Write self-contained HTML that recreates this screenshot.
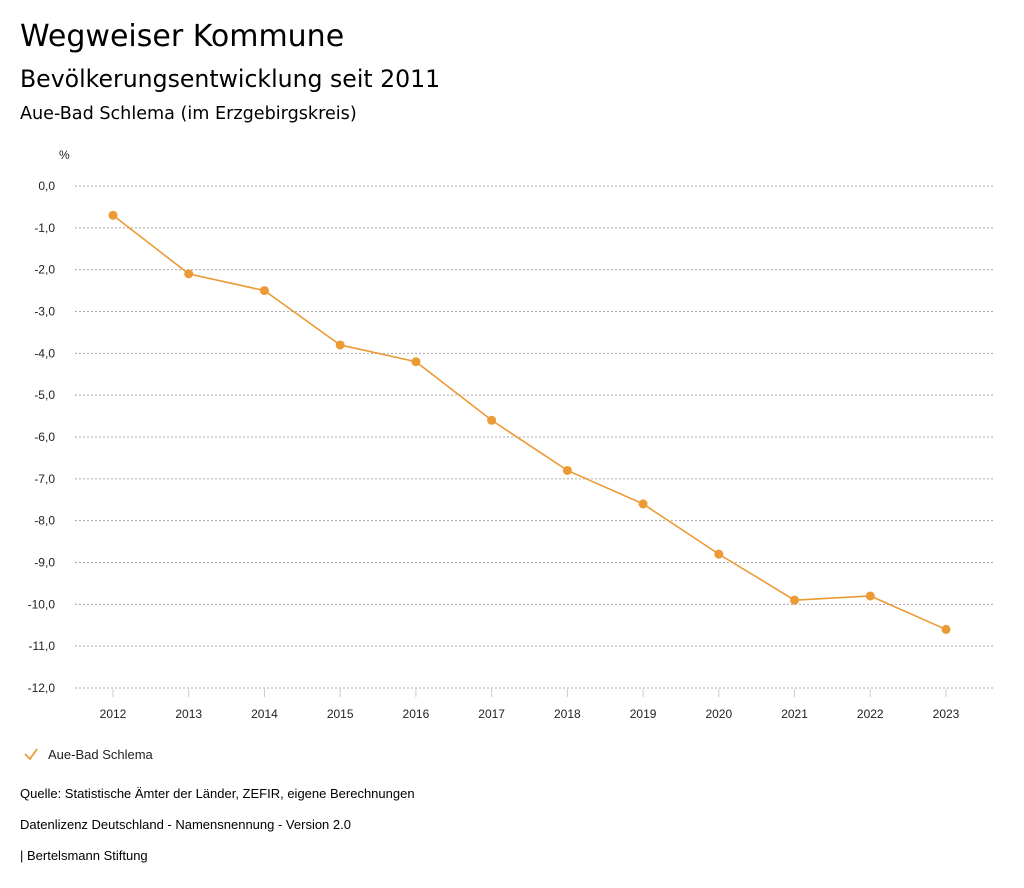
<!DOCTYPE html>
<html><head><meta charset="utf-8"><style>
body{margin:0;width:1024px;height:888px;background:#fff;font-family:"Liberation Sans",sans-serif;color:#000;position:relative;overflow:hidden}
.t{position:absolute;left:20px;white-space:nowrap}
.h{font-family:"DejaVu Sans",sans-serif}
</style></head><body>
<div class="t h" style="top:19px;font-size:30px">Wegweiser Kommune</div>
<div class="t h" style="top:65px;font-size:23.6px">Bevölkerungsentwicklung seit 2011</div>
<div class="t h" style="top:104px;font-size:17.6px">Aue-Bad Schlema (im Erzgebirgskreis)</div>
<svg id="c" width="1024" height="888" style="position:absolute;left:0;top:0"></svg>
<div class="t" style="top:786px;font-size:13px">Quelle: Statistische Ämter der Länder, ZEFIR, eigene Berechnungen</div>
<div class="t" style="top:817px;font-size:13px">Datenlizenz Deutschland - Namensnennung - Version 2.0</div>
<div class="t" style="top:848px;font-size:13px">| Bertelsmann Stiftung</div>
<script>
const years=[2012,2013,2014,2015,2016,2017,2018,2019,2020,2021,2022,2023];
const values=[-0.7,-2.1,-2.5,-3.8,-4.2,-5.6,-6.8,-7.6,-8.8,-9.9,-9.8,-10.6];
const yTicks=[0,-1,-2,-3,-4,-5,-6,-7,-8,-9,-10,-11,-12];
const NS="http://www.w3.org/2000/svg",svg=document.getElementById('c');
const y=v=>186+(-v)*(502/12);
const x=i=>113+i*(833/11);
function mk(t,a,txt){const e=document.createElementNS(NS,t);for(const k in a)e.setAttribute(k,a[k]);if(txt!=null)e.textContent=txt;svg.appendChild(e);return e;}
let u=mk('text',{x:59,y:159,'font-size':12,fill:'#222'},'%');


yTicks.forEach(v=>{
 let g=mk('line',{x1:75,x2:993,y1:y(v),y2:y(v),stroke:'#aaa','stroke-dasharray':'2,2','stroke-width':1});
 
 
 let l=mk('text',{x:55,y:y(v)+4,'font-size':12,'text-anchor':'end',fill:'#222'},v.toFixed(1).replace('.',','));
 
 
});
years.forEach((yr,i)=>{
 let t=mk('line',{x1:x(i),x2:x(i),y1:689,y2:697,stroke:'#ccc'});
 
 
 let l=mk('text',{x:x(i),y:718,'font-size':12,'text-anchor':'middle',fill:'#222'},yr);
 
 
});
let p=mk('polyline',{points:values.map((v,i)=>x(i)+','+y(v)).join(' '),fill:'none',stroke:'#ec9a35','stroke-width':1.6});


values.forEach((v,i)=>{
 let c=mk('circle',{cx:x(i),cy:y(v),r:4.5,fill:'#ec9a35'});
 
 
});
let ck=mk('polyline',{points:'25,754 30,759 37,749',fill:'none',stroke:'#ec9a35','stroke-width':1.8});


let lt=mk('text',{x:48,y:759,'font-size':13,fill:'#222'},'Aue-Bad Schlema');


</script>
</body></html>
